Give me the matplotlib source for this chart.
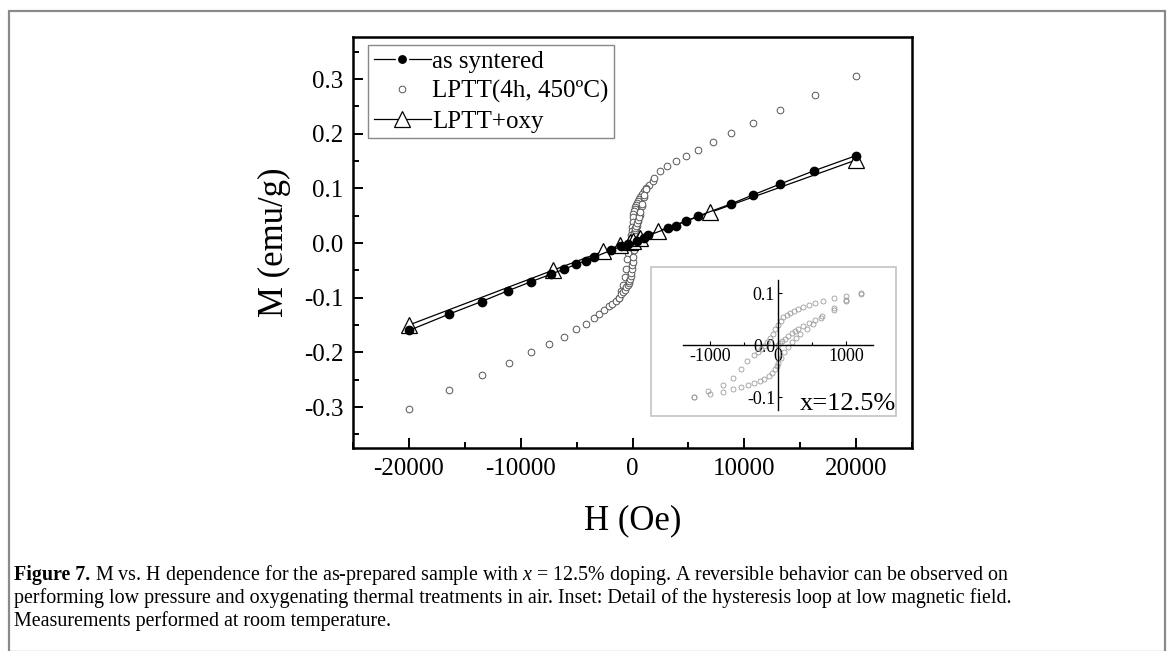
import numpy as np
import matplotlib
matplotlib.use("Agg")
import matplotlib.pyplot as plt
from matplotlib.patches import Rectangle
from matplotlib.lines import Line2D

plt.rcParams['font.family'] = ['Liberation Serif', 'DejaVu Serif']
plt.rcParams['mathtext.fontset'] = 'custom'
plt.rcParams['mathtext.rm'] = 'Liberation Serif'
plt.rcParams['mathtext.it'] = 'Liberation Serif:italic'
plt.rcParams['mathtext.bf'] = 'Liberation Serif:bold'
plt.rcParams['axes.unicode_minus'] = False

# as syntered (filled dots + line)
as_h = [-20000, -16400, -13500, -11100, -9100, -7300, -6150, -5050, -4180, -3450, -1900,
        -1000, -400, 400, 1000, 1420, 3150, 3850, 4750, 5830, 8850, 10780, 13200, 16200, 20000]
as_m = [-0.160, -0.130, -0.107, -0.087, -0.071, -0.057, -0.048, -0.039, -0.032, -0.026, -0.013,
        -0.006, -0.002, 0.004, 0.009, 0.014, 0.027, 0.032, 0.040, 0.049, 0.072, 0.088, 0.108, 0.132, 0.160]

# LPTT+oxy (open triangles + line)
oxy_h = [-20000, -7150, -2600, -1100, -200, 0, 690, 2300, 6950, 20000]
oxy_m = [-0.150, -0.050, -0.015, -0.004, 0.002, 0.004, 0.010, 0.022, 0.056, 0.152]

# LPTT(4h, 450C) high-field tails (open circles)
lptt_h = [-20000, -16450, -13470, -11070, -9080, -7480, -6140, -5050, -4160, -3470, -2970,
          -2520, -2140, -1800, -1500, 1500, 1800, 1960, 2490, 3120, 3890, 4780, 5820, 7190,
          8790, 10750, 13200, 16300, 20000]
lptt_m = [-0.304, -0.269, -0.241, -0.219, -0.199, -0.184, -0.171, -0.158, -0.148, -0.138, -0.129,
          -0.122, -0.116, -0.111, -0.106, 0.107, 0.113, 0.119, 0.131, 0.141, 0.150, 0.160, 0.171, 0.185,
          0.201, 0.220, 0.243, 0.270, 0.305]

# low-field loop (inset)
desc_h = [1230, 1000, 820, 660, 540, 450, 370, 300, 240, 180, 130, 80, 40, 0,
          -40, -80, -120, -160, -200, -250, -300, -360, -460, -550, -670, -810, -1030, -1240]
desc_m = [0.100, 0.095, 0.090, 0.085, 0.081, 0.077, 0.073, 0.070, 0.066, 0.062, 0.058, 0.053, 0.047, 0.038,
          0.030, 0.022, 0.014, 0.006, -0.002, -0.008, -0.013, -0.019, -0.030, -0.047, -0.063, -0.076, -0.088, -0.100]
asc_h = [-1240, -1000, -810, -660, -540, -440, -350, -270, -200, -140, -90, -50, -20, 0,
         40, 90, 140, 200, 260, 330, 420, 520, 640, 820, 1000, 1230]
asc_m = [-0.100, -0.094, -0.090, -0.085, -0.081, -0.077, -0.073, -0.069, -0.065, -0.060, -0.054, -0.047, -0.041, -0.035,
         -0.025, -0.013, -0.003, 0.006, 0.014, 0.022, 0.031, 0.041, 0.052, 0.068, 0.085, 0.099]
virg_h = [0, 30, 60, 100, 150, 200, 250, 300, 370, 450, 540, 650, 820, 1000]
virg_m = [0.000, 0.004, 0.008, 0.012, 0.018, 0.023, 0.027, 0.031, 0.036, 0.042, 0.048, 0.056, 0.072, 0.087]

cap_bold = "Figure 7."
caption = [
    r" M vs. H dependence for the as-prepared sample with $x$ = 12.5% doping. A reversible behavior can be observed on",
    "performing low pressure and oxygenating thermal treatments in air. Inset: Detail of the hysteresis loop at low magnetic field.",
    "Measurements performed at room temperature.",
]

W, H = 1171, 651
fig = plt.figure(figsize=(W / 100, H / 100), dpi=100)

# outer frame
fig.patches.append(Rectangle((9 / W, 1 - 652 / H), 1156 / W, 641 / H, transform=fig.transFigure,
                             fill=False, edgecolor='#8a8a8a', linewidth=1.6))

ax = fig.add_axes([353 / W, 1 - 448 / H, 559 / W, 411 / H])
loop_h = lptt_h + desc_h + asc_h + virg_h
loop_m = lptt_m + desc_m + asc_m + virg_m
ax.plot(loop_h, loop_m, 'o', ms=4.8, mfc='white', mec='#555555', mew=0.7, zorder=2)
ax.plot(oxy_h, oxy_m, '-', color='black', lw=0.9, marker='^', ms=12, mfc='white',
        mec='black', mew=0.9, zorder=3)
ax.plot(as_h, as_m, '-', color='black', lw=0.9, marker='o', ms=6, mfc='black',
        mec='black', zorder=4)

ax.set_xlim(-25000, 25000)
ax.set_ylim(-0.375, 0.377)
ax.set_xticks([-20000, -10000, 0, 10000, 20000])
ax.set_xticks(np.arange(-25000, 25001, 5000), minor=True)
ax.set_yticks([-0.3, -0.2, -0.1, 0.0, 0.1, 0.2, 0.3])
ax.set_yticks(np.arange(-0.35, 0.36, 0.05), minor=True)
ax.yaxis.set_major_formatter(plt.FormatStrFormatter('%.1f'))
ax.tick_params(which='both', direction='in', width=1.4, labelsize=18)
ax.tick_params(which='major', length=7, pad=7)
ax.tick_params(which='minor', length=4)
for s in ax.spines.values():
    s.set_linewidth(1.8)
ax.set_xlabel('H (Oe)', fontsize=25, labelpad=18)
ax.set_ylabel('M (emu/g)', fontsize=25, labelpad=9)

handles = [
    Line2D([], [], color='black', lw=0.9, marker='o', ms=8, mfc='black', mec='white', mew=1.6),
    Line2D([], [], ls='none', marker='o', ms=4.8, mfc='white', mec='#555555', mew=0.7),
    Line2D([], [], color='black', lw=0.9, marker='^', ms=12, mfc='white', mec='black', mew=0.9),
]
leg = ax.legend(handles, ['as syntered', 'LPTT(4h, 450ºC)', 'LPTT+oxy'], loc='upper left',
                bbox_to_anchor=(0.027, 0.98), borderaxespad=0, fontsize=18, fancybox=False,
                framealpha=1, edgecolor='#888888', handlelength=2.3, handletextpad=0.05,
                labelspacing=0.28, borderpad=0.22)
leg.get_frame().set_linewidth(1.0)

# inset frame and axes
fig.patches.append(Rectangle((651 / W, 1 - 416 / H), 245 / W, 149 / H, transform=fig.transFigure,
                             fill=True, facecolor='white', edgecolor='#c4c4c4', linewidth=1.2, zorder=5))
ins = fig.add_axes([683 / W, 1 - 410 / H, 190 / W, 130 / H], zorder=6)
ins.patch.set_alpha(0)
ins.plot(desc_h + asc_h + virg_h, desc_m + asc_m + virg_m, 'o', ms=3.6, mfc='none',
         mec='#9a9a9a', mew=0.6)
ins.set_xlim(-1400, 1400)
ins.set_ylim(-0.125, 0.125)
ins.spines['left'].set_position(('data', 0))
ins.spines['bottom'].set_position(('data', 0))
ins.spines['top'].set_visible(False)
ins.spines['right'].set_visible(False)
for s in ('left', 'bottom'):
    ins.spines[s].set_linewidth(1.0)
ins.set_xticks([-1000, 0, 1000])
ins.set_xticks([-500, 500], minor=True)
ins.set_yticks([-0.1, 0.0, 0.1])
ins.yaxis.set_major_formatter(plt.FormatStrFormatter('%.1f'))
ins.tick_params(which='both', direction='in', length=3, width=0.8, labelsize=13, pad=2)
ins.tick_params(which='minor', length=2)
fig.text(848 / W, 1 - 404 / H, 'x=12.5%', fontsize=19, ha='center', va='center', zorder=7)

# caption: bold lead-in followed by regular text
cap_fs = 14.4
r = fig.canvas.get_renderer()
tb = fig.text(14 / W, 1 - 580 / H, cap_bold, fontsize=cap_fs, fontweight='bold', ha='left', va='baseline')
bw = tb.get_window_extent(renderer=r).width
fig.text((14 + bw) / W, 1 - 580 / H, caption[0], fontsize=cap_fs, ha='left', va='baseline')
for i, line in enumerate(caption[1:], start=1):
    fig.text(14 / W, 1 - (580 + 23 * i) / H, line, fontsize=cap_fs, ha='left', va='baseline')

fig.savefig('out.png', dpi=100)
